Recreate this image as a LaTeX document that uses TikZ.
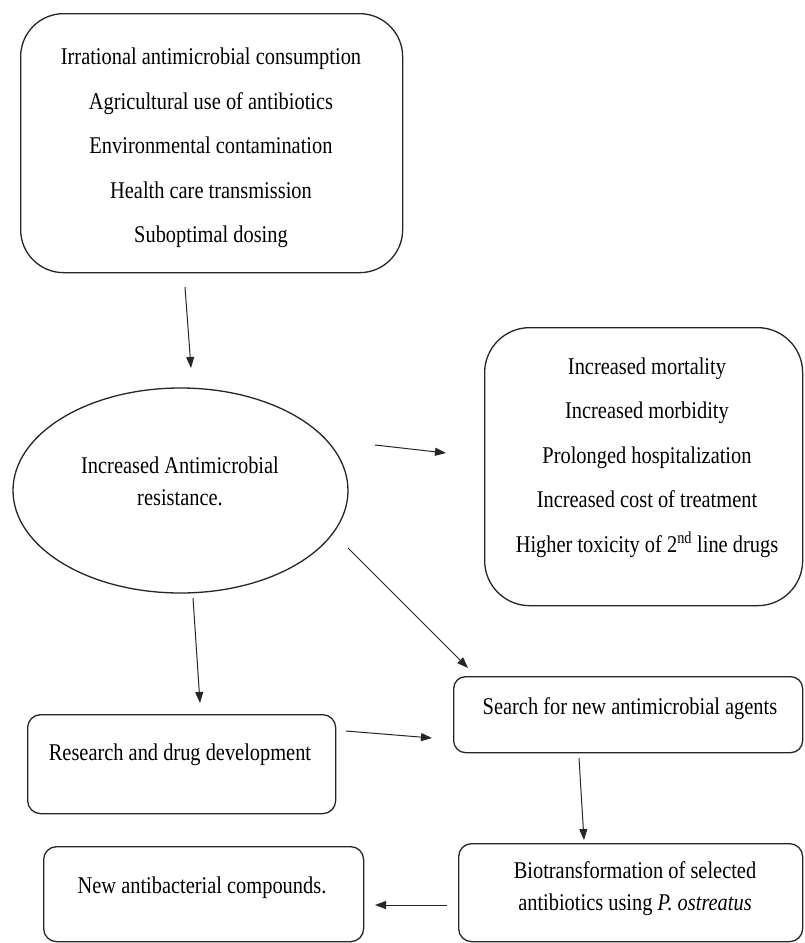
\documentclass[tikz,border=0pt]{standalone}
\usepackage{fontspec}
\setmainfont[FakeStretch=0.85]{Liberation Serif}
\usetikzlibrary{shapes.geometric,arrows.meta}
\begin{document}
\begin{tikzpicture}[x=1pt,y=-1pt,
  rbox/.style={draw=black!85, line width=1.3pt, rounded corners=#1, inner sep=0pt, anchor=north west},
  oval/.style={draw=black!85, line width=1.3pt, ellipse, inner sep=0pt},
  txt/.style={font=\fontsize{24}{44.5}\selectfont, align=center, inner sep=0pt, text=black},
  txttwo/.style={font=\fontsize{24}{31.5}\selectfont, align=center, inner sep=0pt, text=black},
  conn/.style={-{Triangle[length=11pt,width=8pt]}, line width=1pt, draw=black!85}
]
\fill[white] (0,0) rectangle (804,943);
\useasboundingbox (0,0) rectangle (804,943);

% boxes
\node[rbox=43pt, minimum width=382pt, minimum height=259pt] (causes) at (20,13) {};
\node[rbox=45pt, minimum width=318pt, minimum height=278pt] (effects) at (484,327) {};
\node[oval, minimum width=335pt, minimum height=205pt] (amr) at (180.5,490.5) {};
\node[rbox=12pt, minimum width=349pt, minimum height=76pt] (search) at (453,676) {};
\node[rbox=13pt, minimum width=308pt, minimum height=99pt] (research) at (27,714) {};
\node[rbox=13pt, minimum width=320pt, minimum height=95pt] (newc) at (43,846) {};
\node[rbox=13pt, minimum width=344pt, minimum height=98pt] (bio) at (458,843) {};

% texts
\node[txt] (causestext) at (211,148) {Irrational antimicrobial consumption\\Agricultural use of antibiotics\\Environmental contamination\\Health care transmission\\Suboptimal dosing};
\node[txt] (effectstext) at (647,457.5) {Increased mortality\\Increased morbidity\\Prolonged hospitalization\\Increased cost of treatment\\Higher toxicity of 2\textsuperscript{nd} line drugs};
\node[txttwo] (amrtext) at (180,481.5) {Increased Antimicrobial\\resistance.};
\node[txt, anchor=base] (searchtext) at (630,714) {Search for new antimicrobial agents};
\node[txt, anchor=base] (researchtext) at (180,760) {Research and drug development};
\node[txt, anchor=base] (newtext) at (202,893) {New antibacterial compounds.};
\node[txttwo] (biotext) at (635,888.5) {Biotransformation of selected\\antibiotics using \textit{P. ostreatus}};

% connector end points
\coordinate (a1s) at (185,287);   \coordinate (a1e) at (191,368);
\coordinate (a2s) at (375,445);   \coordinate (a2e) at (446,453);
\coordinate (a3s) at (348,548);   \coordinate (a3e) at (468,668);
\coordinate (a4s) at (193,598);   \coordinate (a4e) at (200,703);
\coordinate (a5s) at (346,731);   \coordinate (a5e) at (432,738);
\coordinate (a6s) at (579,758);   \coordinate (a6e) at (584,840);
\coordinate (a7s) at (447,905);   \coordinate (a7e) at (375,905);

\draw[conn] (a1s) -- (a1e);
\draw[conn] (a2s) -- (a2e);
\draw[conn] (a3s) -- (a3e);
\draw[conn] (a4s) -- (a4e);
\draw[conn] (a5s) -- (a5e);
\draw[conn] (a6s) -- (a6e);
\draw[conn] (a7s) -- (a7e);
\end{tikzpicture}
\end{document}
